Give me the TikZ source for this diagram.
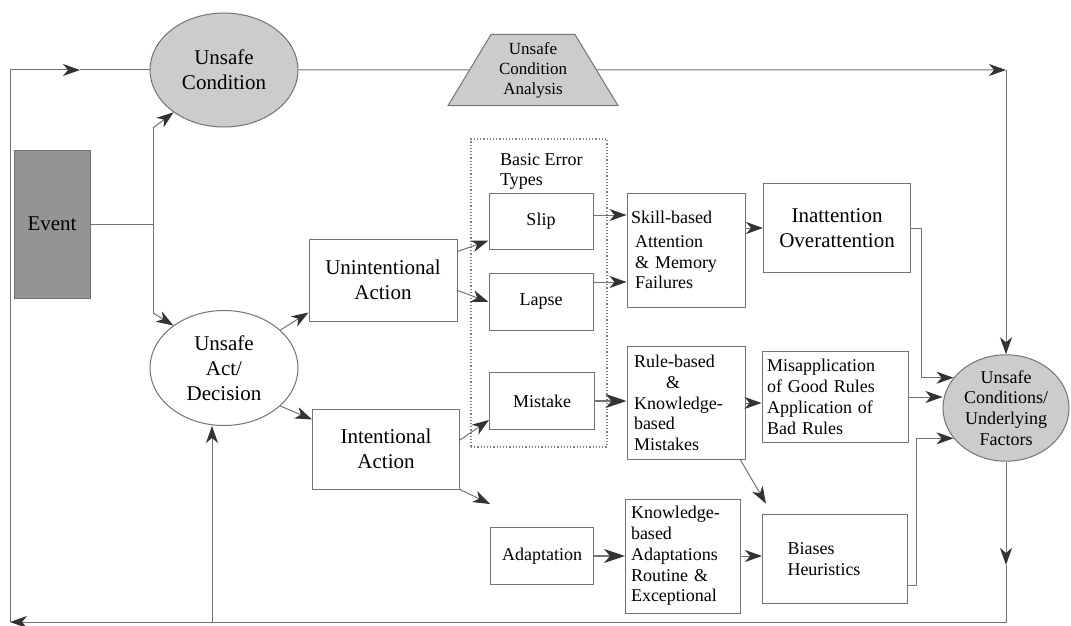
\documentclass[tikz,border=0pt]{standalone}
\usepackage{fontspec}
\setmainfont{Liberation Serif}
\usetikzlibrary{arrows.meta,shapes.geometric}
\newcommand\bigtxt{\rmfamily\fontsize{21}{25}\selectfont}
\newcommand\smtxt{\rmfamily\fontsize{18}{20.8}\selectfont}

\begin{document}
\begin{tikzpicture}[x=1pt, y=-1pt,
    ln/.style={black!55, line width=1pt},
    arr/.style={ln, -{Stealth[length=17pt,width=12pt,inset=5pt,color=black!80]}},
    thk/.style={ln, line width=1.8pt, -{Stealth[length=21pt,width=14pt,inset=6pt,color=black!80]}},
    box/.style={draw=black!55, line width=1pt, rectangle, inner sep=2pt, font=\smtxt, align=center},
    oval/.style={draw=black!55, line width=1pt, ellipse, inner sep=0pt, align=center, font=\bigtxt}]
    \useasboundingbox (0,0) rectangle (1071,626);

    \node[oval, fill=black!20, minimum width=148pt, minimum height=114pt] (ucond) at (224,70) {Unsafe\\Condition};
    \node[trapezium, trapezium angle=58, trapezium stretches=true, draw=black!55, line width=1pt, fill=black!20,
          minimum width=170pt, minimum height=71pt, inner sep=0pt, align=center,
          font=\rmfamily\fontsize{17}{20}\selectfont] (ucana) at (533,70) {Unsafe\\Condition\\Analysis};
    \node[box, fill=black!42, minimum width=76pt, minimum height=148pt, font=\bigtxt] (event) at (52,224) {Event};
    \node[oval, minimum width=148pt, minimum height=115pt] (uact) at (224,368) {Unsafe\\Act/\\Decision};
    \node[box, minimum width=148pt, minimum height=82pt, font=\bigtxt] (unint) at (383,280) {Unintentional\\Action};
    \node[box, minimum width=147pt, minimum height=80pt, font=\bigtxt] (intent) at (386,449) {Intentional\\Action};

    \node[draw=black!50, dotted, line width=1.2pt, minimum width=136pt, minimum height=308pt] (errbox) at (539,293) {};
    \node[anchor=north west, inner sep=0pt, align=left, font=\smtxt] (errlbl) at (500,153) {Basic Error\\Types};
    \node[box, minimum width=104pt, minimum height=56pt] (slip) at (541,221) {Slip};
    \node[box, minimum width=104pt, minimum height=57pt] (lapse) at (541,302) {Lapse};
    \node[box, minimum width=105pt, minimum height=57pt] (mistake) at (542,401) {Mistake};
    \node[box, minimum width=103pt, minimum height=57pt] (adapt) at (542,556) {Adaptation};

    \node[box, minimum width=118pt, minimum height=114pt, text width=110pt, align=left] (skill) at (686,250)
        {Skill-based\\[3pt]\hspace*{4pt}Attention\\\hspace*{4pt}\& Memory\\\hspace*{4pt}Failures};
    \node[box, minimum width=118pt, minimum height=113pt, text width=104pt, align=left] (rule) at (686,403)
        {Rule-based\\\hspace*{32pt}\&\\Knowledge-\\based\\Mistakes};
    \node[box, minimum width=115pt, minimum height=114pt, text width=104pt, align=left] (knowadapt) at (683,556)
        {Knowledge-\\based\\Adaptations\\Routine \&\\Exceptional};
    \node[box, minimum width=147pt, minimum height=89pt, font=\bigtxt] (inatt) at (837,228) {Inattention\\Overattention};
    \node[box, minimum width=146pt, minimum height=91pt, text width=136pt, align=left] (misapp) at (835,397)
        {Misapplication\\of Good Rules\\Application of\\Bad Rules};
    \node[box, minimum width=145pt, minimum height=89pt, text width=95pt, align=left] (biases) at (835,559)
        {Biases\\Heuristics};
    \node[oval, fill=black!20, minimum width=126pt, minimum height=104pt, font=\smtxt] (uconds) at (1006,408)
        {Unsafe\\Conditions/\\Underlying\\Factors};

    \coordinate (tl) at (10,70);
    \coordinate (tm) at (80,70);
    \coordinate (tr) at (1006,70);
    \coordinate (bl) at (10,622);
    \coordinate (br) at (1006,622);
    \coordinate (rm) at (1006,565);
    \coordinate (bj) at (212,622);
    \coordinate (jn) at (153,224);
    \coordinate (ja) at (153,128);
    \coordinate (jb) at (153,313);
    \coordinate (loose) at (490,504);

    \draw[ln] (bl) -- (tl);
    \draw[arr] (tl) -- (tm);
    \draw[ln] (tm) -- (ucond.west);
    \draw[ln] (ucond.east) -- (ucana.west);
    \draw[arr] (ucana.east) -- (tr);
    \draw[arr] (tr) -- (uconds.north);
    \draw[arr] (uconds.south) -- (rm);
    \draw[arr] (rm) -- (br) -- (bl);
    \draw[arr] (bj) -- (bj |- uact.south);

    \draw[ln] (event.east) -- (jn);
    \draw[ln] (ja) -- (jb);
    \draw[arr] (ja) -- (ucond.220);
    \draw[arr] (jb) -- (uact.140);

    \draw[arr] (uact.34) -- ([yshift=9pt]unint.south west);
    \draw[arr] (uact.-34) -- ([yshift=-11pt]intent.north west);
    \draw[arr] ([yshift=-13pt]unint.north east) -- ([yshift=9pt]slip.south west);
    \draw[arr] ([yshift=31pt]unint.south east) -- (lapse.west);
    \draw[arr] ([yshift=9pt]intent.east) -- ([yshift=10pt]mistake.south west);
    \draw[arr] (intent.south east) -- (loose);

    \path ([yshift=6pt]slip.east) coordinate (sp);
    \path ([yshift=20pt]lapse.east) coordinate (lp);
    \draw[arr] (sp) -- (sp -| skill.west);
    \draw[arr] (lp) -- (lp -| skill.west);
    \draw[arr] (skill.east |- inatt.west) -- (inatt.west);
    \draw[thk] (mistake.east) -- (mistake.east -| rule.west);
    \draw[arr] (rule.east) -- (rule.east -| misapp.west);
    \draw[arr, shorten >=12pt] ([xshift=-5pt]rule.south east) -- ([xshift=10pt]biases.north west);
    \draw[thk] (adapt.east) -- (adapt.east -| knowadapt.west);
    \draw[arr] (knowadapt.east) -- (knowadapt.east -| biases.west);

    \draw[arr] (inatt.east) -- ++(10,0) |- (uconds.150);
    \draw[arr] (misapp.east) -- (misapp.east -| uconds.west);
    \path ([yshift=-26pt]biases.east) coordinate (bp);
    \draw[arr] (bp) -- ++(8,0) |- (uconds.210);
\end{tikzpicture}
\end{document}
